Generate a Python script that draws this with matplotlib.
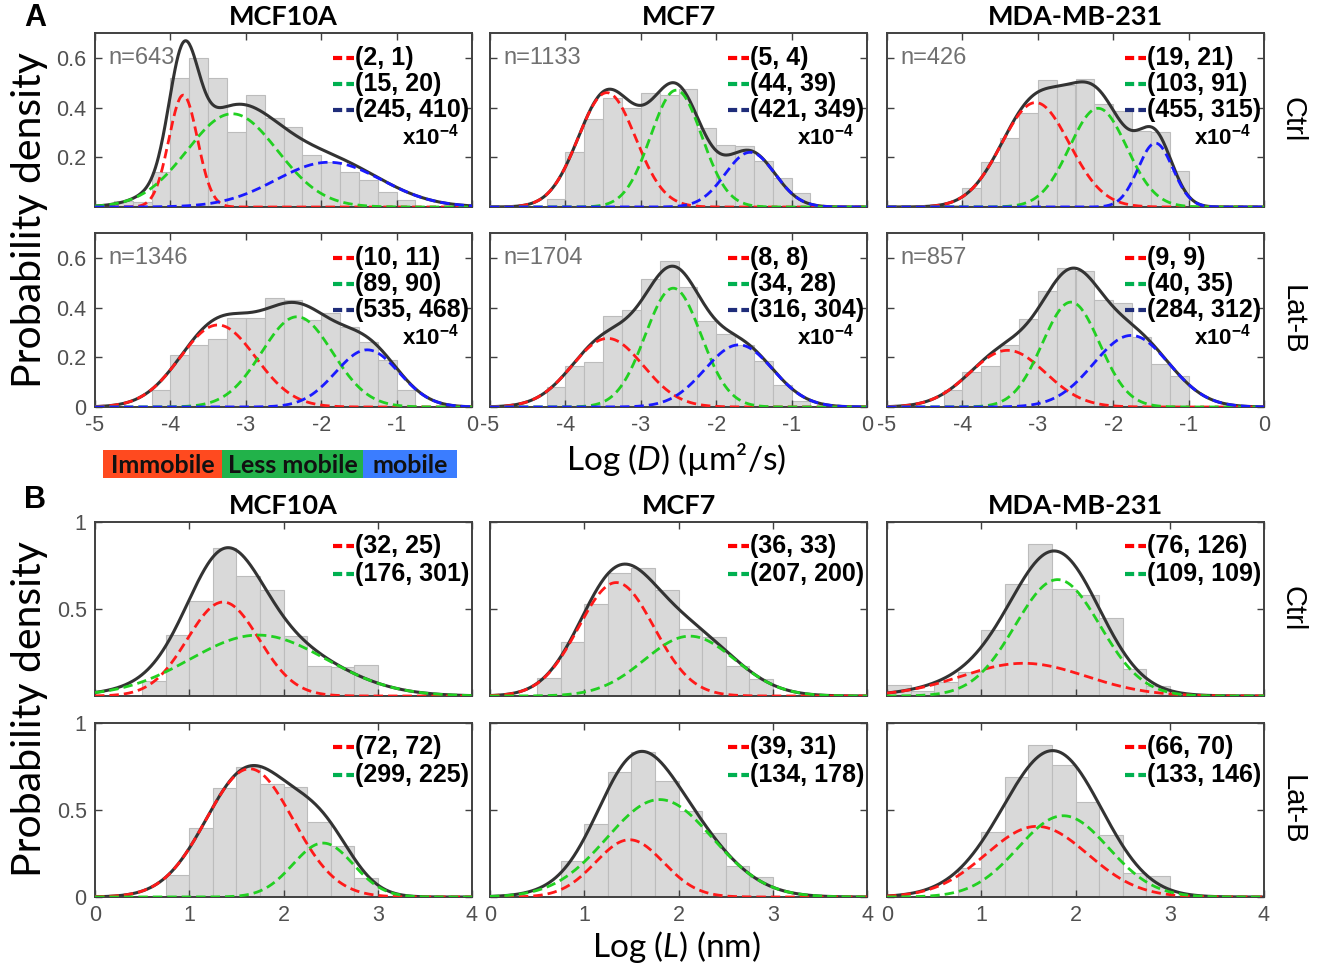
import numpy as np
import matplotlib
matplotlib.use('Agg')
import matplotlib.pyplot as plt
from matplotlib.patches import Rectangle

plt.rcParams['mathtext.fontset'] = 'custom'
plt.rcParams['mathtext.rm'] = 'Lato'
plt.rcParams['mathtext.it'] = 'Lato:italic'
plt.rcParams['mathtext.bf'] = 'Liberation Sans:bold'

cells = ['MCF10A', 'MCF7', 'MDA-MB-231']
conds = ['Ctrl', 'Lat-B']
n_ctrl = [643, 1133, 426]
n_latb = [1346, 1704, 857]

# histogram heights, log D, bins of 0.25 from -5 to 0
D_hist_ctrl = [
    [0, 0.025, 0.02, 0.14, 0.52, 0.60, 0.52, 0.30, 0.45, 0.36, 0.32, 0.21, 0.18, 0.14, 0.11, 0.06, 0.03, 0, 0, 0],
    [0, 0, 0, 0.034, 0.22, 0.354, 0.44, 0.40, 0.458, 0.45, 0.473, 0.316, 0.25, 0.246, 0.185, 0.115, 0.057, 0, 0, 0],
    [0, 0, 0, 0.01, 0.077, 0.18, 0.276, 0.377, 0.512, 0.49, 0.516, 0.415, 0.388, 0.307, 0.303, 0.145, 0, 0, 0, 0],
]
D_hist_latb = [
    [0, 0, 0, 0.067, 0.21, 0.25, 0.272, 0.36, 0.357, 0.44, 0.43, 0.35, 0.38, 0.32, 0.26, 0.19, 0.07, 0, 0, 0],
    [0, 0, 0, 0.081, 0.164, 0.18, 0.367, 0.39, 0.515, 0.586, 0.484, 0.344, 0.295, 0.25, 0.187, 0.09, 0.023, 0, 0, 0],
    [0, 0, 0, 0.067, 0.14, 0.163, 0.25, 0.355, 0.465, 0.56, 0.547, 0.43, 0.42, 0.28, 0.174, 0.123, 0, 0, 0, 0],
]
# gaussian components: centre, width, peak height
D_mu_ctrl = [[-3.83, -3.18, -1.9], [-3.45, -2.53, -1.55], [-3.03, -2.2, -1.44]]
D_sd_ctrl = [[0.19, 0.6, 0.7], [0.38, 0.34, 0.33], [0.45, 0.38, 0.23]]
D_pk_ctrl = [[0.45, 0.375, 0.18], [0.46, 0.47, 0.22], [0.42, 0.397, 0.257]]
D_mu_latb = [[-3.37, -2.32, -1.39], [-3.44, -2.57, -1.7], [-3.4, -2.56, -1.76]]
D_sd_latb = [[0.5, 0.47, 0.42], [0.47, 0.37, 0.45], [0.5, 0.38, 0.5]]
D_pk_latb = [[0.33, 0.363, 0.23], [0.276, 0.478, 0.25], [0.228, 0.422, 0.288]]
D_leg_ctrl = [['(2, 1)', '(15, 20)', '(245, 410)'], ['(5, 4)', '(44, 39)', '(421, 349)'],
              ['(19, 21)', '(103, 91)', '(455, 315)']]
D_leg_latb = [['(10, 11)', '(89, 90)', '(535, 468)'], ['(8, 8)', '(34, 28)', '(316, 304)'],
              ['(9, 9)', '(40, 35)', '(284, 312)']]

# histogram heights, log L, bins of 0.25 from 0 to 4
L_hist_ctrl = [
    [0, 0, 0.087, 0.348, 0.545, 0.851, 0.69, 0.609, 0.342, 0.174, 0.164, 0.178, 0, 0, 0, 0],
    [0, 0, 0.106, 0.31, 0.526, 0.706, 0.735, 0.609, 0.387, 0.338, 0.174, 0.1, 0, 0, 0, 0],
    [0.063, 0.03, 0.08, 0.14, 0.38, 0.646, 0.871, 0.617, 0.579, 0.448, 0.156, 0.06, 0, 0, 0, 0],
]
L_hist_latb = [
    [0, 0, 0, 0.127, 0.396, 0.627, 0.75, 0.65, 0.635, 0.429, 0.294, 0.112, 0, 0, 0, 0],
    [0, 0, 0, 0.208, 0.419, 0.717, 0.833, 0.669, 0.496, 0.365, 0.179, 0.117, 0, 0, 0, 0],
    [0, 0, 0, 0.169, 0.375, 0.688, 0.875, 0.756, 0.548, 0.356, 0.14, 0.121, 0, 0, 0, 0],
]
L_mu_ctrl = [[1.36, 1.73], [1.34, 2.12], [1.45, 1.81]]
L_sd_ctrl = [[0.38, 0.72], [0.4, 0.48], [0.66, 0.45]]
L_pk_ctrl = [[0.54, 0.35], [0.652, 0.344], [0.188, 0.669]]
L_mu_latb = [[1.64, 2.42], [1.48, 1.8], [1.59, 1.87]]
L_sd_latb = [[0.46, 0.32], [0.36, 0.56], [0.54, 0.48]]
L_pk_latb = [[0.737, 0.31], [0.329, 0.56], [0.406, 0.467]]
L_leg_ctrl = [['(32, 25)', '(176, 301)'], ['(36, 33)', '(207, 200)'], ['(76, 126)', '(109, 109)']]
L_leg_latb = [['(72, 72)', '(299, 225)'], ['(39, 31)', '(134, 178)'], ['(66, 70)', '(133, 146)']]

mobility = ['Immobile', 'Less mobile', 'mobile']

curve_cols = ['#ff1a1a', '#22d022', '#1a1aff']
leg_cols = ['#ff0000', '#00b050', '#1f2d7a']
band_cols = ['#ff4a1f', '#22b24a', '#3b7dff']

W, H = 1323.0, 972.0
fig = plt.figure(figsize=(13.23, 9.72), dpi=100)

col_left = [95, 490, 887]
col_w = 377
row_top = [33, 233, 522, 723]
row_h = 174

rows = [
    (D_hist_ctrl, D_mu_ctrl, D_sd_ctrl, D_pk_ctrl, D_leg_ctrl, n_ctrl),
    (D_hist_latb, D_mu_latb, D_sd_latb, D_pk_latb, D_leg_latb, n_latb),
    (L_hist_ctrl, L_mu_ctrl, L_sd_ctrl, L_pk_ctrl, L_leg_ctrl, None),
    (L_hist_latb, L_mu_latb, L_sd_latb, L_pk_latb, L_leg_latb, None),
]

for r, (hist, mus, sds, pks, legs, ns) in enumerate(rows):
    if r < 2:
        edges = np.arange(-5, 0.01, 0.25)
        xt = [-5, -4, -3, -2, -1, 0]
        yt = [0.2, 0.4, 0.6] if r == 0 else [0, 0.2, 0.4, 0.6]
        ytop = 0.7
        dy = 26.0 / row_h
    else:
        edges = np.arange(0, 4.01, 0.25)
        xt = [0, 1, 2, 3, 4]
        yt = [0.5, 1] if r == 2 else [0, 0.5, 1]
        ytop = 1.0
        dy = 28.0 / row_h
    for c in range(3):
        ax = fig.add_axes([col_left[c] / W, 1 - (row_top[r] + row_h) / H, col_w / W, row_h / H])
        ax.bar(edges[:-1], hist[c], width=0.25, align='edge', color='#d9d9d9',
               edgecolor='#bcbcbc', lw=0.8, zorder=1)
        x = np.linspace(edges[0], edges[-1], 500)
        parts = [pk * np.exp(-0.5 * ((x - mu) / sd) ** 2) for mu, sd, pk in zip(mus[c], sds[c], pks[c])]
        ax.plot(x, np.sum(parts, axis=0), color='#333333', lw=2.2, zorder=2)
        for k, part in enumerate(parts):
            ax.plot(x, part, color=curve_cols[k], lw=2.0, dashes=(3.4, 1.8), zorder=3)

        ax.set_xlim(edges[0], edges[-1])
        ax.set_ylim(0, ytop)
        ax.set_xticks(xt)
        ax.set_yticks(yt)
        if r in (1, 3):
            ax.set_xticklabels([str(v) for v in xt])
        else:
            ax.set_xticklabels([])
        if c == 0:
            ax.set_yticklabels(['%g' % v for v in yt])
        else:
            ax.set_yticklabels([])
        ax.tick_params(direction='in', top=True, right=True, length=5, width=1.0,
                       colors='#404040', labelcolor='#505050', labelsize=15.5, pad=6)
        for lab in ax.get_xticklabels() + ax.get_yticklabels():
            lab.set_family('Liberation Sans')
        for sp in ax.spines.values():
            sp.set_color('#404040')
            sp.set_linewidth(1.4)

        # legend drawn by hand, matlab style
        y0 = 0.856 if r < 2 else 0.861
        for k, lab in enumerate(legs[c]):
            yy = y0 - k * dy
            ax.plot([0.632, 0.688], [yy, yy], transform=ax.transAxes, color=leg_cols[k],
                    lw=3.0, dashes=(2.2, 1.0), clip_on=False, zorder=5)
            ax.text(0.69, yy, lab, transform=ax.transAxes, ha='left', va='center',
                    fontsize=18, fontweight='bold', family='Liberation Sans', zorder=5)
        if r < 2:
            ax.text(0.965, y0 - 3 * dy + 0.005, r'$\mathbf{x10^{-4}}$', transform=ax.transAxes,
                    ha='right', va='center', fontsize=16, zorder=5)
            ax.text(0.035, y0, 'n=%d' % ns[c], transform=ax.transAxes, ha='left', va='center',
                    fontsize=17, color='#707070', family='Liberation Sans', zorder=0.5)

        if r in (0, 2):
            ax.set_title(cells[c], fontsize=19.5, fontweight='bold', family='Lato', pad=6)
        if c == 2:
            ax.text(1.075, 0.5, conds[r % 2], transform=ax.transAxes, rotation=270,
                    ha='center', va='center', fontsize=21, family='Liberation Sans')

# axis labels
fig.text(30 / W, 1 - 220 / H, 'Probability density', rotation=90, ha='center', va='center',
         fontsize=29.5, family='Lato')
fig.text(30 / W, 1 - 709 / H, 'Probability density', rotation=90, ha='center', va='center',
         fontsize=29.5, family='Lato')
fig.text(676 / W, 1 - 460 / H, r'Log ($\mathit{D}$) (µm²/s)', ha='center', va='center',
         fontsize=24, family='Lato')
fig.text(676 / W, 1 - 947 / H, r'Log ($\mathit{L}$) (nm)', ha='center', va='center',
         fontsize=24, family='Lato')

fig.text(35 / W, 1 - 18 / H, 'A', ha='center', va='center', fontsize=22, fontweight='bold',
         family='Liberation Sans')
fig.text(35 / W, 1 - 500 / H, 'B', ha='center', va='center', fontsize=22, fontweight='bold',
         family='Liberation Sans')

# mobility colour band under panel A
band_x = [103, 222, 363, 457]
for i, name in enumerate(mobility):
    x0, x1 = band_x[i], band_x[i + 1]
    fig.add_artist(Rectangle((x0 / W, 1 - 478 / H), (x1 - x0) / W, 28 / H,
                             transform=fig.transFigure, color=band_cols[i], lw=0))
    fig.text((x0 + x1) / 2 / W, 1 - 465 / H, name, ha='center', va='center',
             fontsize=18, fontweight='bold', family='Lato', color='#111111')

fig.savefig('out.png', dpi=100)
